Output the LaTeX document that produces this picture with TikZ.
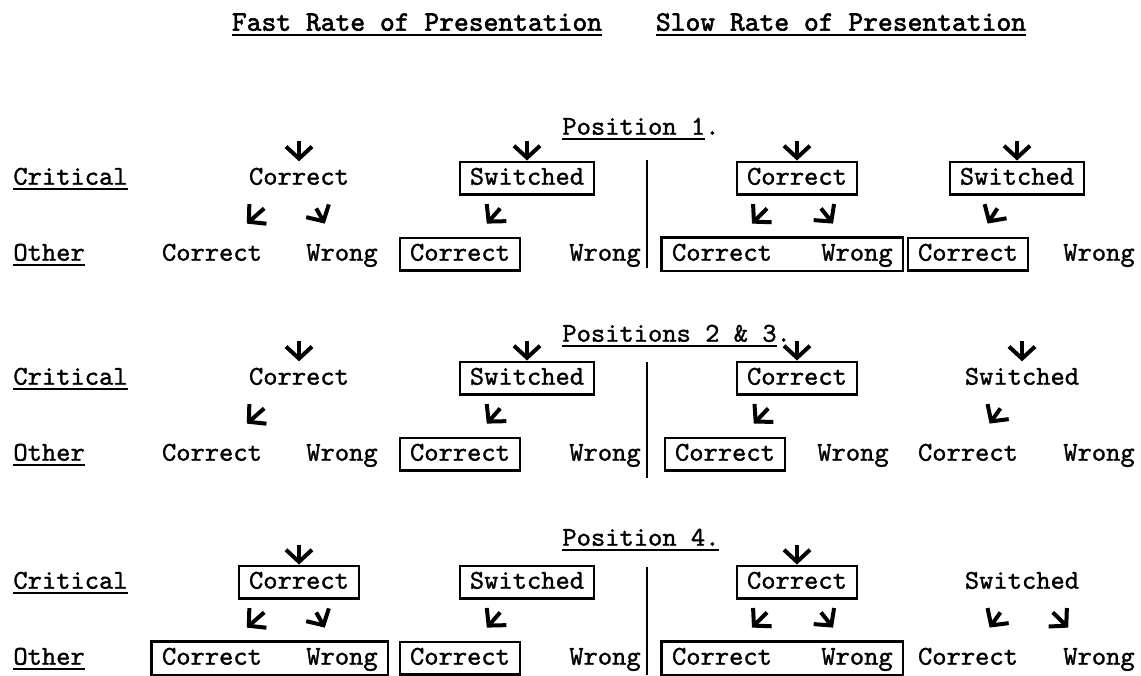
\documentclass[tikz,border=0pt]{standalone}
\usepackage{fontspec}
\usetikzlibrary{arrows.meta,calc,fit}
\newfontfamily\typefont{lmmono10-regular.otf}[FakeBold=1.2]
\newfontfamily\typeheadfont{lmmono10-regular.otf}[FakeBold=2]
\newcommand\typed{\fontsize{13.6}{16}\selectfont\typefont}
\newcommand\typedhead{\fontsize{14.1}{16}\selectfont\typeheadfont}
\newcommand\typeul[1]{\setbox0\hbox{#1}\rlap{\rule[-2.6pt]{\wd0}{1.2pt}}\box0}
\tikzset{entry/.style={font=\typed, text height=9.5pt, text depth=2.8pt,
  inner xsep=5pt, inner ysep=2pt},
  boxed/.style={entry, draw, line width=1.2pt},
  pair/.style={draw, line width=1.2pt, inner sep=0pt},
  drop/.style={line width=2pt, -{Straight Barb[length=6pt,width=13pt]}},
  divider/.style={line width=1.2pt}}

\begin{document}
\begin{tikzpicture}[x=0.5pt, y=-0.5pt]
\useasboundingbox (0,0) rectangle (1141,675);
% headings
\node[entry, font=\typedhead] (fast) at (417,24) {\typeul{Fast Rate of Presentation}};
\node[entry, font=\typedhead] (slow) at (841,24) {\typeul{Slow Rate of Presentation}};

% Position 1
\node[entry, anchor=west] (pos1) at (552,128) {\typeul{Position 1}.};
\node[entry, anchor=west] (crit1) at (3,178) {\typeul{Critical}};
\node[entry, anchor=west] (other1) at (3,254) {\typeul{Other}};
\node[entry] (c1a) at (299,178) {Correct};
\node[boxed] (c1b) at (527,178) {Switched};
\node[boxed] (c1c) at (797,178) {Correct};
\node[boxed] (c1d) at (1017,178) {Switched};
\node[entry] (o1a) at (212,254) {Correct};
\node[entry] (o1b) at (342,254) {Wrong};
\node[boxed] (o1c) at (460,254) {Correct};
\node[entry] (o1d) at (605,254) {Wrong};
\node[entry] (o1e) at (722,254) {Correct};
\node[entry] (o1f) at (857,254) {Wrong};
\node[pair, fit=(o1e)(o1f)] (o1ef) {};
\node[boxed] (o1g) at (968,254) {Correct};
\node[entry] (o1h) at (1099,254) {Wrong};
\coordinate (d1t) at (647,160);
\coordinate (d1b) at (647,268);
\draw[divider] (d1t) -- (d1b);
\draw[drop] ([yshift=10pt]c1a.north) -- (c1a.north);
\draw[drop] ([yshift=10pt]c1b.north) -- (c1b.north);
\draw[drop] ([yshift=10pt]c1c.north) -- (c1c.north);
\draw[drop] ([yshift=10pt]c1d.north) -- (c1d.north);
\draw[drop] ($(c1a)!.4!(o1a)$) -- ($(c1a)!.6!(o1a)$);
\draw[drop] ($(c1a)!.4!(o1b)$) -- ($(c1a)!.6!(o1b)$);
\draw[drop] ($(c1b)!.4!(o1c)$) -- ($(c1b)!.6!(o1c)$);
\draw[drop] ($(c1c)!.4!(o1e)$) -- ($(c1c)!.6!(o1e)$);
\draw[drop] ($(c1c)!.4!(o1f)$) -- ($(c1c)!.6!(o1f)$);
\draw[drop] ($(c1d)!.4!(o1g)$) -- ($(c1d)!.6!(o1g)$);

% Positions 2 & 3
\node[entry, anchor=west] (pos2) at (552,335) {\typeul{Positions 2 \& 3}.};
\node[entry, anchor=west] (crit2) at (3,378) {\typeul{Critical}};
\node[entry, anchor=west] (other2) at (3,454) {\typeul{Other}};
\node[entry] (c2a) at (299,378) {Correct};
\node[boxed] (c2b) at (527,378) {Switched};
\node[boxed] (c2c) at (797,378) {Correct};
\node[entry] (c2d) at (1022,378) {Switched};
\node[entry] (o2a) at (212,454) {Correct};
\node[entry] (o2b) at (342,454) {Wrong};
\node[boxed] (o2c) at (460,454) {Correct};
\node[entry] (o2d) at (605,454) {Wrong};
\node[boxed] (o2e) at (725,454) {Correct};
\node[entry] (o2f) at (853,454) {Wrong};
\node[entry] (o2g) at (968,454) {Correct};
\node[entry] (o2h) at (1099,454) {Wrong};
\coordinate (d2t) at (647,362);
\coordinate (d2b) at (647,478);
\draw[divider] (d2t) -- (d2b);
\draw[drop] ([yshift=10pt]c2a.north) -- (c2a.north);
\draw[drop] ([yshift=10pt]c2b.north) -- (c2b.north);
\draw[drop] ([yshift=10pt]c2c.north) -- (c2c.north);
\draw[drop] ([yshift=10pt]c2d.north) -- (c2d.north);
\draw[drop] ($(c2a)!.4!(o2a)$) -- ($(c2a)!.6!(o2a)$);
\draw[drop] ($(c2b)!.4!(o2c)$) -- ($(c2b)!.6!(o2c)$);
\draw[drop] ($(c2c)!.4!(o2e)$) -- ($(c2c)!.6!(o2e)$);
\draw[drop] ($(c2d)!.4!(o2g)$) -- ($(c2d)!.6!(o2g)$);

% Position 4
\node[entry, anchor=west] (pos4) at (552,539) {\typeul{Position 4.}};
\node[entry, anchor=west] (crit3) at (3,582) {\typeul{Critical}};
\node[entry, anchor=west] (other3) at (3,658) {\typeul{Other}};
\node[boxed] (c3a) at (299,582) {Correct};
\node[boxed] (c3b) at (527,582) {Switched};
\node[boxed] (c3c) at (797,582) {Correct};
\node[entry] (c3d) at (1022,582) {Switched};
\node[entry] (o3a) at (212,658) {Correct};
\node[entry] (o3b) at (342,658) {Wrong};
\node[pair, fit=(o3a)(o3b)] (o3ab) {};
\node[boxed] (o3c) at (460,658) {Correct};
\node[entry] (o3d) at (605,658) {Wrong};
\node[entry] (o3e) at (722,658) {Correct};
\node[entry] (o3f) at (857,658) {Wrong};
\node[pair, fit=(o3e)(o3f)] (o3ef) {};
\node[entry] (o3g) at (968,658) {Correct};
\node[entry] (o3h) at (1099,658) {Wrong};
\coordinate (d3t) at (647,567);
\coordinate (d3b) at (647,675);
\draw[divider] (d3t) -- (d3b);
\draw[drop] ([yshift=10pt]c3a.north) -- (c3a.north);
\draw[drop] ([yshift=10pt]c3c.north) -- (c3c.north);
\draw[drop] ($(c3a)!.4!(o3a)$) -- ($(c3a)!.6!(o3a)$);
\draw[drop] ($(c3a)!.4!(o3b)$) -- ($(c3a)!.6!(o3b)$);
\draw[drop] ($(c3b)!.4!(o3c)$) -- ($(c3b)!.6!(o3c)$);
\draw[drop] ($(c3c)!.4!(o3e)$) -- ($(c3c)!.6!(o3e)$);
\draw[drop] ($(c3c)!.4!(o3f)$) -- ($(c3c)!.6!(o3f)$);
\draw[drop] ($(c3d)!.4!(o3g)$) -- ($(c3d)!.6!(o3g)$);
\draw[drop] ($(c3d)!.4!(o3h)$) -- ($(c3d)!.6!(o3h)$);
\end{tikzpicture}
\end{document}
